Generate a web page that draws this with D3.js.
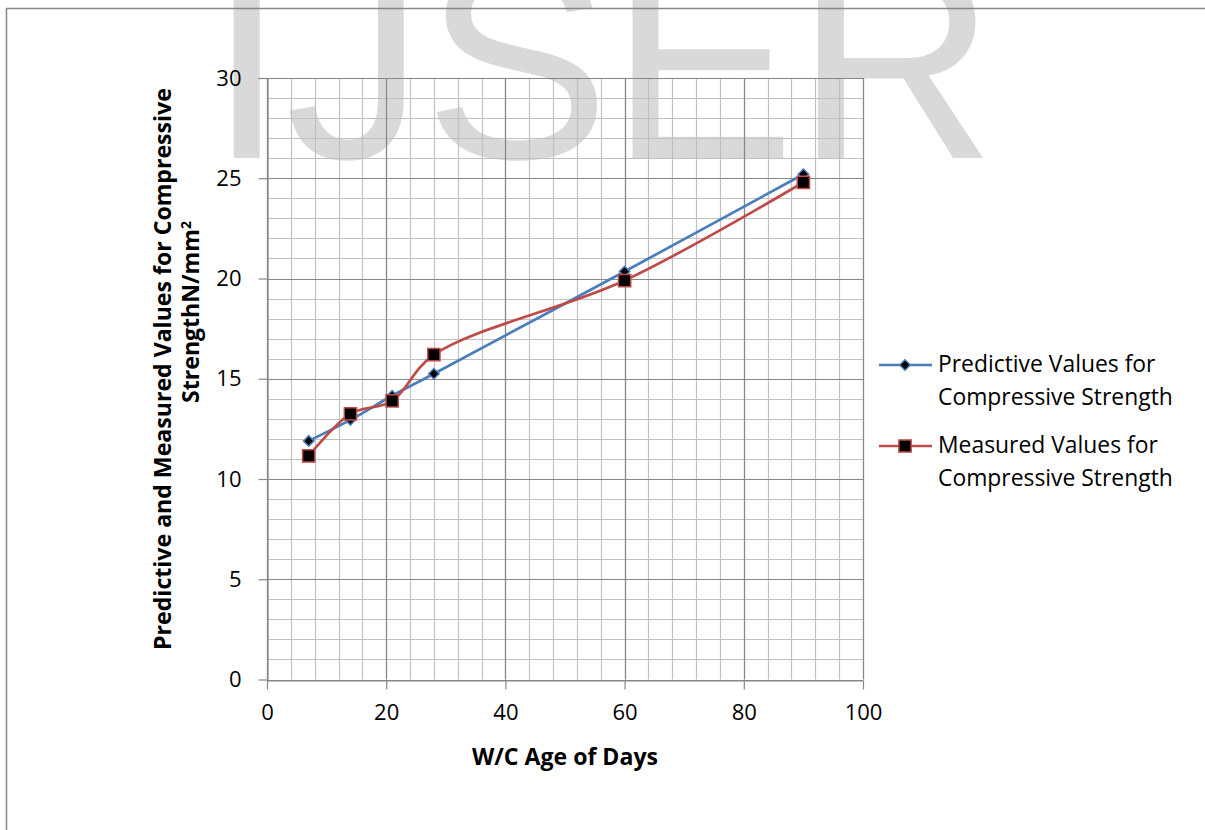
<!DOCTYPE html>
<html>
<head>
<meta charset="utf-8">
<script src="https://cdn.jsdelivr.net/npm/d3@7"></script>
<style>
  body { margin: 0; background: #fff; }
  text { font-family: "Open Sans", Lato, sans-serif; }
</style>
</head>
<body>
<script>
// chart values
const days = [7, 14, 21, 28, 60, 90]
const predictive = [11.9, 12.95, 14.15, 15.25, 20.35, 25.2]
const measured = [11.15, 13.25, 13.9, 16.2, 19.9, 24.8]
const xTicks = [0, 20, 40, 60, 80, 100]
const yTicks = [0, 5, 10, 15, 20, 25, 30]
const seriesNames = ['Predictive Values for|Compressive Strength', 'Measured Values for|Compressive Strength']

var blue = '#4a7ebb'
var red = '#be4b48'
var minorGrid = '#c0c0c0'
var majorGrid = '#878787'

const svg = d3.select('body').append('svg')
    .attr('width', 1205)
    .attr('height', 830)

// shrink or grow a text so it spans about the given width
function fitWidth(sel, target) {
    var size = parseFloat(sel.style('font-size'))
    var w = sel.node().getComputedTextLength()
    sel.style('font-size', (size * target / w).toFixed(2) + 'px')
}

// watermark
svg.append('text')
    .attr('x', 602)
    .attr('y', 158)
    .attr('text-anchor', 'middle')
    .style('font-family', '"Liberation Sans", Arial, sans-serif')
    .style('font-size', '278px')
    .attr('fill', '#d9d9d9')
    .text('IJSER')

// outer frame
svg.append('rect')
    .attr('x', 6.5)
    .attr('y', 8.5)
    .attr('width', 1300)
    .attr('height', 900)
    .attr('fill', 'none')
    .attr('stroke', '#878787')
    .attr('stroke-width', 1.5)

var x = d3.scaleLinear().domain([0, 100]).range([267, 863])
var y = d3.scaleLinear().domain([0, 30]).range([679.5, 78])

var canvas = svg.append('g')

// minor grid
canvas.append('g').selectAll('line')
    .data(d3.range(0, 101, 4))
    .join('line')
    .attr('x1', d => Math.round(x(d)) + 0.5)
    .attr('x2', d => Math.round(x(d)) + 0.5)
    .attr('y1', y(0))
    .attr('y2', y(30))
    .attr('stroke', minorGrid)
    .attr('stroke-width', 1.2)

canvas.append('g').selectAll('line')
    .data(d3.range(0, 31, 1))
    .join('line')
    .attr('x1', x(0))
    .attr('x2', x(100))
    .attr('y1', d => Math.round(y(d)) + 0.5)
    .attr('y2', d => Math.round(y(d)) + 0.5)
    .attr('stroke', minorGrid)
    .attr('stroke-width', 1.2)

// major grid
canvas.append('g').selectAll('line')
    .data(xTicks)
    .join('line')
    .attr('x1', d => Math.round(x(d)) + 0.5)
    .attr('x2', d => Math.round(x(d)) + 0.5)
    .attr('y1', y(0))
    .attr('y2', y(30))
    .attr('stroke', majorGrid)
    .attr('stroke-width', 1.2)

canvas.append('g').selectAll('line')
    .data(yTicks)
    .join('line')
    .attr('x1', x(0))
    .attr('x2', x(100))
    .attr('y1', d => Math.round(y(d)) + 0.5)
    .attr('y2', d => Math.round(y(d)) + 0.5)
    .attr('stroke', majorGrid)
    .attr('stroke-width', 1.2)

// axes
canvas.append('g')
    .attr('transform', 'translate(' + (Math.round(x(0)) + 0.5) + ',0)')
    .call(d3.axisLeft(y).tickValues(yTicks).tickSize(9).tickPadding(17).tickSizeOuter(0))
canvas.append('g')
    .attr('transform', 'translate(0,' + (Math.round(y(0)) + 0.5) + ')')
    .call(d3.axisBottom(x).tickValues(xTicks).tickSize(9).tickPadding(15).tickSizeOuter(0))

canvas.selectAll('.domain').attr('stroke', majorGrid).attr('stroke-width', 1.2)
canvas.selectAll('.tick line').attr('stroke', majorGrid).attr('stroke-width', 1.2)
canvas.selectAll('.tick text')
    .attr('fill', '#000')
    .style('font-family', '"Open Sans", sans-serif')
    .style('font-size', '22px')

// axis titles
var xTitle = canvas.append('text')
    .attr('x', 565)
    .attr('y', 765)
    .attr('text-anchor', 'middle')
    .style('font-weight', 'bold')
    .style('font-size', '20px')
    .text('W/C Age of Days')
fitWidth(xTitle, 186)

var yTitle1 = canvas.append('text')
    .attr('transform', 'translate(171,369) rotate(-90)')
    .attr('text-anchor', 'middle')
    .style('font-weight', 'bold')
    .style('font-size', '20px')
    .text('Predictive and Measured Values for Compressive')
fitWidth(yTitle1, 562)
var titleSize = yTitle1.style('font-size')

var yTitle2 = canvas.append('text')
    .attr('transform', 'translate(199,312) rotate(-90)')
    .attr('text-anchor', 'middle')
    .style('font-weight', 'bold')
    .style('font-size', titleSize)
    .text('StrengthN/mm')
yTitle2.append('tspan').attr('dy', -8).style('font-size', '14px').text('2')

// series
var line = d3.line()
    .x(d => x(d[0]))
    .y(d => y(d[1]))
    .curve(d3.curveCatmullRom.alpha(0.5))

var predPts = days.map((d, i) => [d, predictive[i]])
var measPts = days.map((d, i) => [d, measured[i]])

canvas.append('path')
    .attr('d', line(predPts))
    .attr('fill', 'none')
    .attr('stroke', blue)
    .attr('stroke-width', 2.7)

canvas.append('path')
    .attr('d', line(measPts))
    .attr('fill', 'none')
    .attr('stroke', red)
    .attr('stroke-width', 2.7)

var diamond = d3.symbol().type(d3.symbolSquare).size(55)
var square = d3.symbol().type(d3.symbolSquare).size(150)

canvas.append('g').selectAll('path')
    .data(predPts)
    .join('path')
    .attr('transform', d => 'translate(' + x(d[0]) + ',' + y(d[1]) + ') rotate(45)')
    .attr('d', diamond)
    .attr('fill', '#000')
    .attr('stroke', blue)
    .attr('stroke-width', 1.5)

canvas.append('g').selectAll('path')
    .data(measPts)
    .join('path')
    .attr('transform', d => 'translate(' + x(d[0]) + ',' + y(d[1]) + ')')
    .attr('d', square)
    .attr('fill', '#000')
    .attr('stroke', red)
    .attr('stroke-width', 1.5)

// legend
var legend = canvas.append('g')
var legendColors = [blue, red]
var legendSymbols = [diamond, square]
var legendRotate = [45, 0]
var legendY = [365, 446]

seriesNames.forEach(function (name, i) {
    legend.append('line')
        .attr('x1', 879)
        .attr('x2', 932)
        .attr('y1', legendY[i])
        .attr('y2', legendY[i])
        .attr('stroke', legendColors[i])
        .attr('stroke-width', 2.7)
    legend.append('path')
        .attr('transform', 'translate(905,' + legendY[i] + ') rotate(' + legendRotate[i] + ')')
        .attr('d', legendSymbols[i])
        .attr('fill', '#000')
        .attr('stroke', legendColors[i])
        .attr('stroke-width', 1.5)
    var parts = name.split('|')
    var t = legend.append('text')
        .attr('x', 938)
        .attr('y', legendY[i] + 7)
        .style('font-size', '21px')
    t.append('tspan').attr('x', 938).attr('dy', 0).text(parts[0])
    var t2 = t.append('tspan').attr('x', 938).attr('dy', 33).text(parts[1])
    var w = t2.node().getComputedTextLength()
    t.style('font-size', (21 * 235 / w).toFixed(2) + 'px')
})
</script>
</body>
</html>
